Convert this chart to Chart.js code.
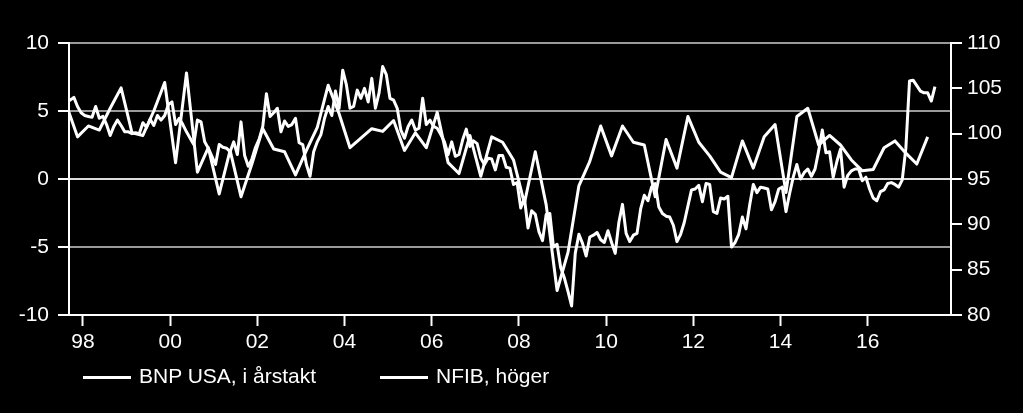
<!DOCTYPE html>
<html>
<head>
<meta charset="utf-8">
<script src="https://cdn.jsdelivr.net/npm/chart.js@4"></script>
<style>
  html, body { margin: 0; padding: 0; background: #000; }
  #wrap { position: relative; width: 1023px; height: 413px; background: #000; }
  .item { position: absolute; top: 363px; display: flex; align-items: center; height: 25px;
          font: 21px "Liberation Sans", Arial, sans-serif; color: #fff; white-space: nowrap; }
  .item .line { display: inline-block; width: 48px; height: 3px; background: #fff; margin-right: 8px; margin-top: 3px; }
</style>
</head>
<body>
<div id="wrap">
  <canvas id="chart"></canvas>
  <div class="item" style="left:83px"><span class="line"></span><span id="lab0"></span></div>
  <div class="item" style="left:380px"><span class="line"></span><span id="lab1"></span></div>
</div>
<script>
// series names
const seriesNames = ['BNP USA, i årstakt', 'NFIB, höger']

// BNP USA, quarterly, annualized, 1997Q3 .. 2017Q2
const gdpStart = [1997, 3]
const gdpValues = [
  5.4, 3.1,
  3.9, 3.6, 5.2, 6.7,
  3.4, 3.2, 5.0, 7.1,
  1.2, 7.8, 0.5, 2.3,
  -1.1, 2.1, -1.3, 1.1,
  3.7, 2.2, 2.0, 0.3,
  2.1, 3.8, 6.9, 4.8,
  2.3, 3.0, 3.7, 3.5,
  4.3, 2.1, 3.4, 2.3,
  4.9, 1.2, 0.4, 3.2,
  0.2, 3.1, 2.7, 1.4,
  -1.8, 2.0, -1.9, -8.2,
  -5.4, -0.5, 1.3, 3.9,
  1.7, 3.9, 2.7, 2.5,
  -1.3, 2.9, 0.8, 4.6,
  2.7, 1.7, 0.5, 0.1,
  2.8, 0.8, 3.1, 4.0,
  -1.0, 4.6, 5.2, 2.5,
  3.2, 2.5, 1.4, 0.6,
  0.7, 2.3, 2.8, 1.9,
  1.1, 3.1
]

// NFIB small business optimism, monthly, 1997-08 .. 2017-07
const nfibStart = [1997, 8]
const nfibValues = [
  104.0, 103.7, 104.0, 103.0, 102.3,
  102.0, 101.9, 101.8, 103.0, 101.7, 101.9, 101.0, 99.8, 100.8, 101.5, 100.9, 100.2,
  100.2, 100.0, 100.1, 100.0, 101.2, 100.7, 101.6, 100.9, 102.0, 101.5, 102.0, 103.2,
  103.5, 101.0, 101.7, 101.0, 100.2, 99.5, 98.8, 101.5, 101.3, 99.1, 98.4, 97.5,
  96.6, 98.8, 98.5, 98.4, 98.0, 99.1, 97.7, 101.3, 97.6, 96.4, 97.2, 98.5,
  99.4, 100.8, 104.4, 101.9, 102.3, 102.8, 100.2, 101.4, 100.8, 101.0, 101.7, 99.0,
  98.8, 96.6, 95.3, 98.0, 99.1, 99.9, 101.7, 103.0, 102.0, 104.7, 102.8, 107.0,
  105.4, 102.8, 103.0, 104.8, 103.9, 105.0, 103.5, 106.1, 102.8, 104.5, 107.4, 106.5,
  103.9, 103.7, 102.8, 100.4, 99.5, 100.8, 101.5, 100.4, 100.6, 103.9, 101.0, 101.5,
  100.8, 100.6, 99.9, 99.1, 97.7, 99.1, 97.5, 97.7, 99.3, 100.5, 98.6, 99.2,
  98.9, 97.3, 96.6, 97.3, 97.2, 96.0, 97.6, 97.6, 96.3, 96.2, 94.4, 94.6,
  91.8, 92.9, 89.6, 91.5, 91.1, 89.2, 88.2, 91.1, 91.2, 87.5, 87.8, 85.2,
  84.1, 82.6, 81.0, 86.8, 88.9, 87.9, 86.5, 88.6, 88.8, 89.1, 88.3, 88.0,
  89.3, 88.0, 86.8, 90.2, 92.2, 89.0, 88.1, 88.8, 89.0, 91.7, 93.2, 92.6,
  94.1, 94.5, 91.9, 91.2, 90.9, 90.8, 89.9, 88.1, 88.9, 90.2, 92.0, 93.8,
  93.9, 94.3, 92.5, 94.5, 94.4, 91.4, 91.2, 92.9, 92.8, 93.1, 87.5, 88.0,
  88.9, 90.8, 89.5, 92.1, 94.4, 93.5, 94.1, 94.0, 93.9, 91.6, 92.5, 93.9,
  94.1, 91.4, 93.4, 95.2, 96.6, 95.0, 95.7, 96.1, 95.3, 96.1, 98.1, 100.4,
  97.9, 98.0, 95.2, 96.9, 98.3, 94.1, 95.4, 95.9, 96.1, 96.1, 94.8, 95.2,
  93.9, 92.9, 92.6, 93.6, 93.8, 94.5, 94.6, 94.4, 94.1, 94.9, 98.4, 105.8,
  105.9, 105.3, 104.7, 104.5, 104.5, 103.6, 105.2
]

// axis ticks
const xTickYears = [1998, 2000, 2002, 2004, 2006, 2008, 2010, 2012, 2014, 2016]
const leftTicks = [-10, -5, 0, 5, 10]
const rightTicks = [80, 85, 90, 95, 100, 105, 110]

// place each period at its middle, in decimal years
const gdpData = gdpValues.map((v, i) => {
  const q = gdpStart[1] - 1 + i
  return { x: gdpStart[0] + Math.floor(q / 4) + ((q % 4) + 0.5) / 4, y: v }
})
const nfibData = nfibValues.map((v, i) => {
  const m = nfibStart[1] - 1 + i
  return { x: nfibStart[0] + Math.floor(m / 12) + ((m % 12) + 0.5) / 12, y: v }
})

document.getElementById('lab0').textContent = seriesNames[0]
document.getElementById('lab1').textContent = seriesNames[1]

const font = { family: '"Liberation Sans", Arial, sans-serif', size: 21 }

new Chart(document.getElementById('chart'), {
  type: 'line',
  data: {
    datasets: [
      { label: seriesNames[0], data: gdpData, yAxisID: 'y', borderColor: '#fff', borderWidth: 3, borderJoinStyle: 'round', pointRadius: 0, tension: 0 },
      { label: seriesNames[1], data: nfibData, yAxisID: 'y1', borderColor: '#fff', borderWidth: 3, borderJoinStyle: 'round', pointRadius: 0, tension: 0 },
    ],
  },
  options: {
    responsive: true,
    maintainAspectRatio: false,
    animation: false,
    layout: { padding: { top: 43, left: 0, right: 0, bottom: 0 } },
    plugins: { legend: { display: false }, tooltip: { enabled: false } },
    scales: {
      x: {
        type: 'linear',
        min: 1997.68,
        max: 2017.91,
        afterBuildTicks: (s) => { s.ticks = xTickYears.map(v => ({ value: v })) },
        afterFit: (s) => { s.height = 98 },
        ticks: {
          color: '#fff', font, padding: 4, maxRotation: 0, autoSkip: false,
          callback: (v) => String(v % 100).padStart(2, '0'),
        },
        grid: { drawOnChartArea: false, drawTicks: true, tickLength: 11, tickColor: '#fff', tickWidth: 2 },
        border: { color: '#fff', width: 2 },
      },
      y: {
        position: 'left',
        min: -10,
        max: 10,
        afterBuildTicks: (s) => { s.ticks = leftTicks.map(v => ({ value: v })) },
        afterFit: (s) => { s.width = 69 },
        ticks: { color: '#fff', font, padding: 9 },
        grid: {
          color: (c) => c.tick.value === 0 ? '#dcdcdc' : (c.tick.value === -10 ? '#fff' : '#9a9a9a'),
          lineWidth: 2,
          tickLength: 11,
          tickColor: '#fff',
        },
        border: { color: '#fff', width: 2 },
      },
      y1: {
        position: 'right',
        min: 80,
        max: 110,
        afterBuildTicks: (s) => { s.ticks = rightTicks.map(v => ({ value: v })) },
        afterFit: (s) => { s.width = 72 },
        ticks: { color: '#fff', font, padding: 5 },
        grid: { drawOnChartArea: false, tickLength: 11, tickColor: '#fff', lineWidth: 2 },
        border: { color: '#fff', width: 2 },
      },
    },
  },
})
</script>
</body>
</html>
